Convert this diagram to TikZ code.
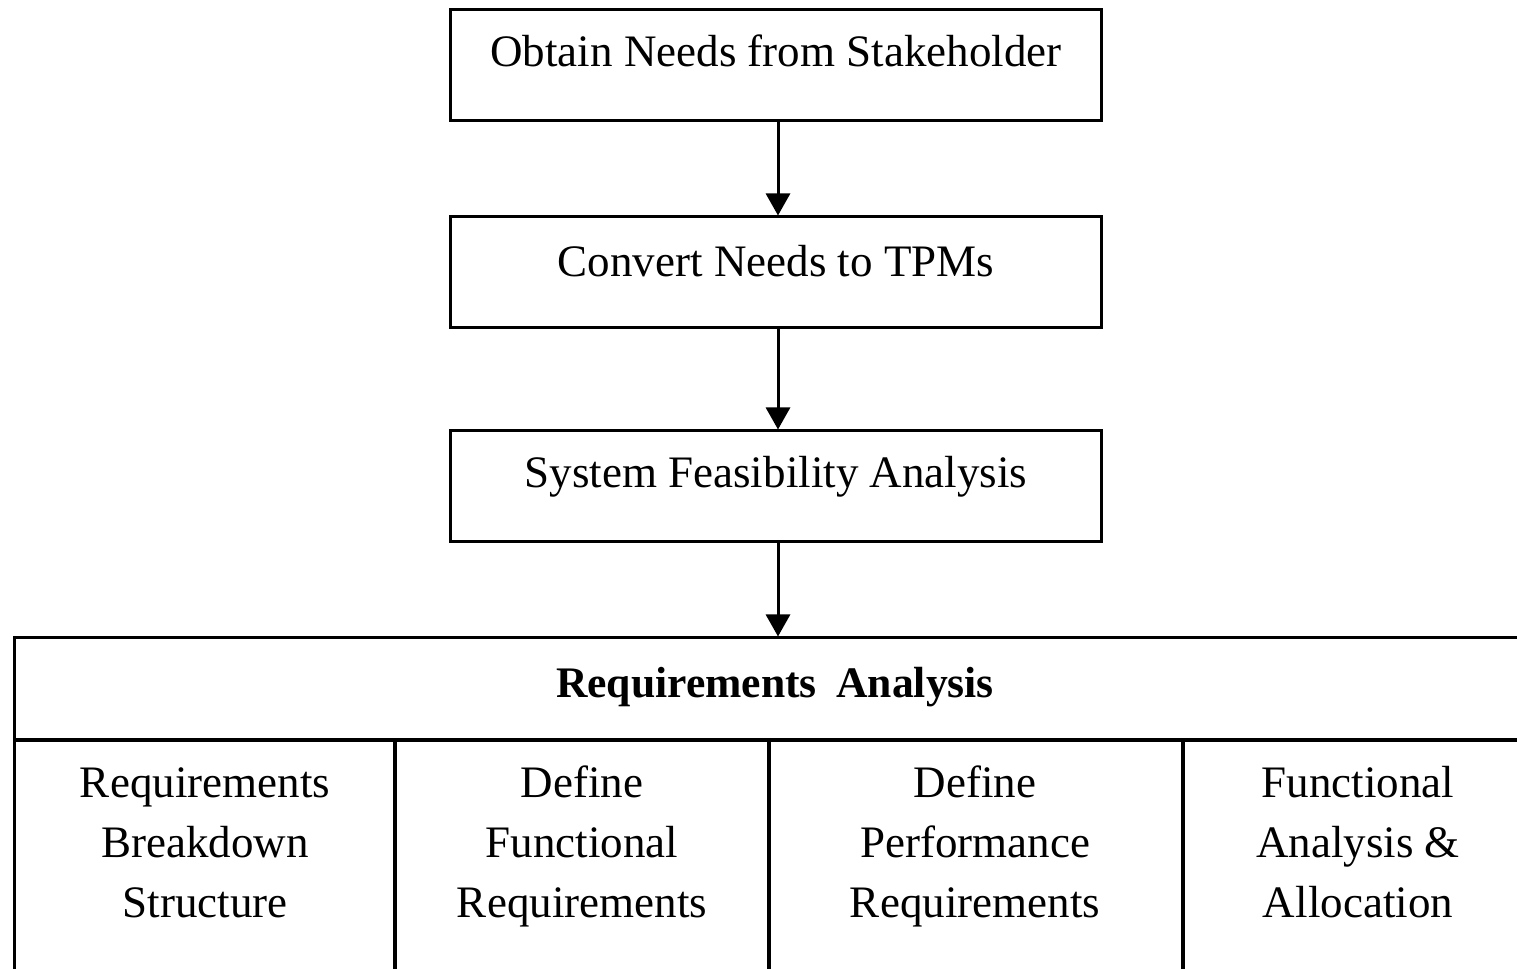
\documentclass[tikz,border=0pt]{standalone}
\usepackage{fontspec}
\setmainfont{Liberation Serif}
\usetikzlibrary{arrows.meta}
\begin{document}
\begin{tikzpicture}[x=0.01cm,y=-0.01cm,
  box/.style={draw, line width=0.85pt, minimum width=6.5cm, minimum height=1.1cm, inner sep=0pt},
  cell/.style={draw, line width=0.85pt, inner sep=0pt},
  txt/.style={font=\fontsize{12.8}{17.07}\selectfont, inner sep=0pt, anchor=base},
  flow/.style={-{Triangle[length=0.22cm,width=0.24cm]}, line width=0.85pt}]
\clip (0,0) rectangle (1517,969);

% process boxes
\node[box] (obtain)  at (776,65)  {};
\node[box] (convert) at (776,272) {};
\node[box] (feas)    at (776,486) {};

\node[txt] (tobtain)  at (776,66)  {Obtain Needs from Stakeholder};
\node[txt] (tconvert) at (776,276) {Convert Needs to TPMs};
\node[txt] (tfeas)    at (776,487) {System Feasibility Analysis};

% requirements analysis table (runs past the right and lower edges)
\node[cell, minimum width=15.3cm, minimum height=1.02cm] (ra) at (780,689) {};
\node[cell, minimum width=3.8cm,  minimum height=2.4cm] (c1) at (205,860) {};
\node[cell, minimum width=3.74cm, minimum height=2.4cm] (c2) at (582,860) {};
\node[cell, minimum width=4.14cm, minimum height=2.4cm] (c3) at (976,860) {};
\node[cell, minimum width=3.6cm,  minimum height=2.4cm] (c4) at (1363,860) {};

\node[txt, font=\fontsize{12.4}{17.07}\selectfont\bfseries] (tra) at (775,697) {Requirements\hspace{0.45em}Analysis};

\node[txt] (tc1) at (205,797)  {\parbox[t]{3.6cm}{\centering Requirements\\Breakdown\\Structure}};
\node[txt] (tc2) at (582,797)  {\parbox[t]{3.6cm}{\centering Define\\Functional\\Requirements}};
\node[txt] (tc3) at (975,797)  {\parbox[t]{3.8cm}{\centering Define\\Performance\\Requirements}};
\node[txt] (tc4) at (1358,797) {\parbox[t]{3.4cm}{\centering Functional\\Analysis \&\\Allocation}};

% flow arrows, set slightly right of the box centre line
\draw[flow] ([xshift=0.02cm]obtain.south) -- ([xshift=0.02cm]convert.north);
\draw[flow] ([xshift=0.02cm]convert.south) -- ([xshift=0.02cm]feas.north);
\draw[flow] ([xshift=0.02cm]feas.south) -- ([xshift=0.02cm]feas.south |- ra.north);
\end{tikzpicture}
\end{document}
